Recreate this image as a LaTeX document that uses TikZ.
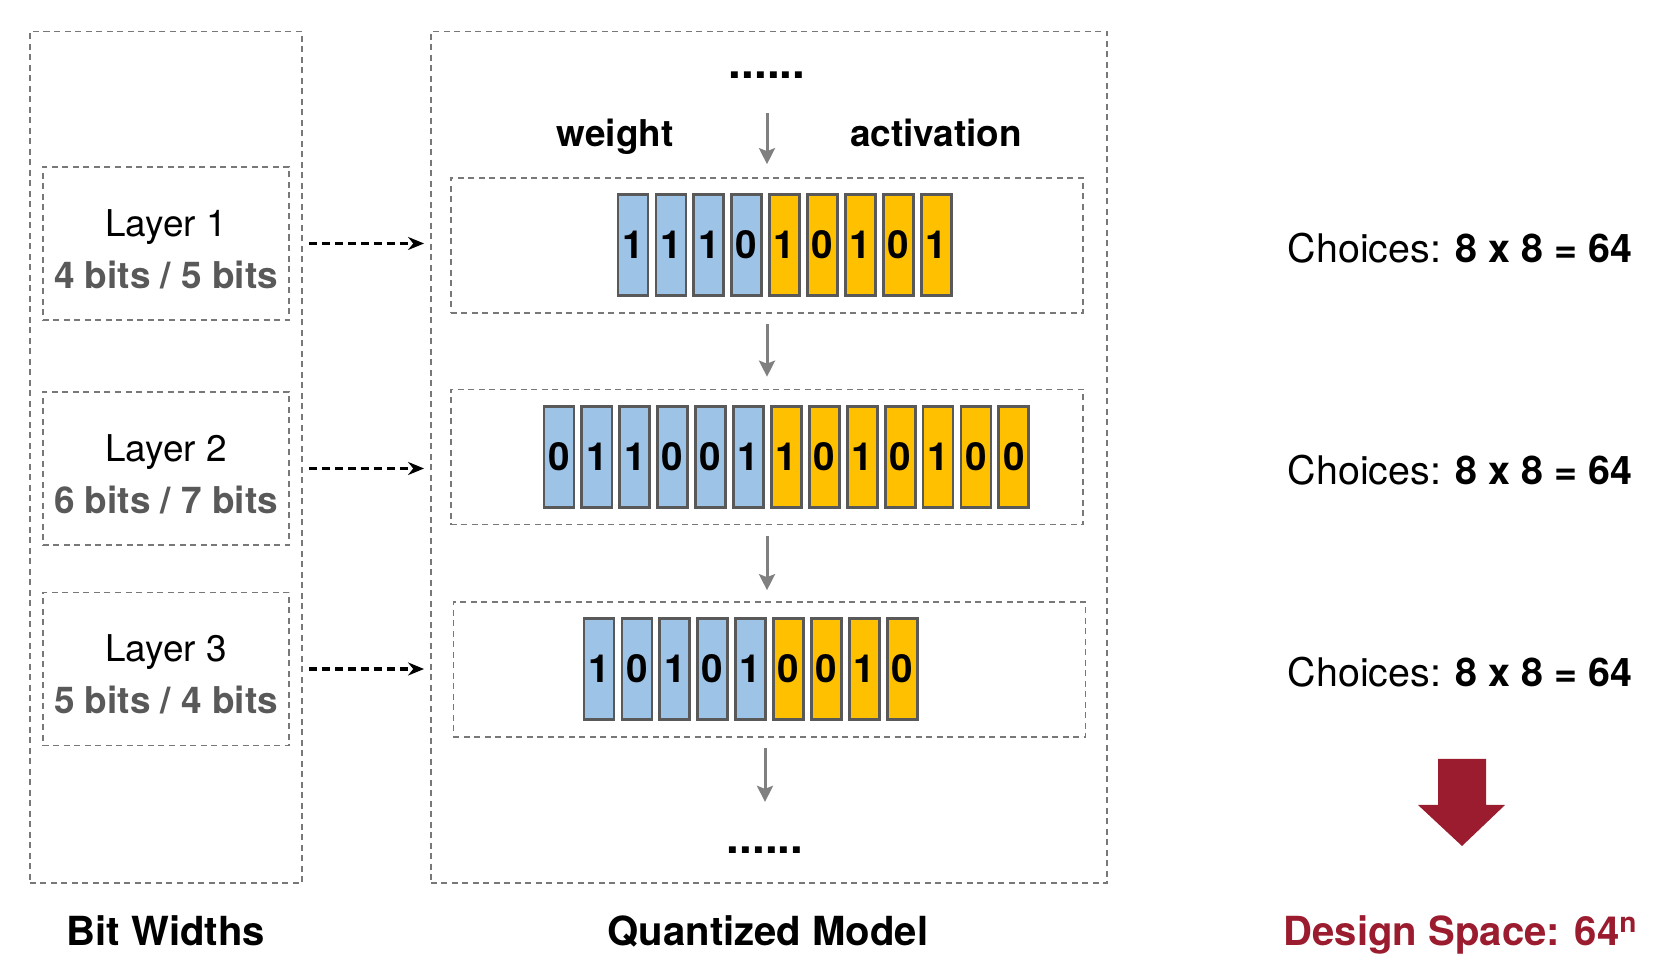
\documentclass[tikz,border=0pt]{standalone}
\usepackage{fontspec}
\setmainfont{TeX Gyre Heros}
\usetikzlibrary{arrows, arrows.meta}
\definecolor{wblue}{RGB}{157,195,230}
\definecolor{agold}{RGB}{255,192,0}
\definecolor{dgray}{RGB}{89,89,89}
\definecolor{dsred}{RGB}{154,28,46}
\definecolor{boxgray}{RGB}{120,120,120}
\tikzset{
  >=stealth',
  dbox/.style={draw=boxgray, line width=0.015cm, dash pattern=on 0.06cm off 0.045cm},
  layer/.style={dbox, minimum width=2.46cm, minimum height=1.53cm},
  layertxt/.style={align=center, yshift=-0.055cm, font=\fontsize{10.5}{14.8}\selectfont},
  row/.style={dbox, minimum width=6.32cm, minimum height=1.35cm},
  bit/.style={draw=dgray, line width=0.028cm, minimum width=0.30cm, minimum height=1.01cm, inner sep=0pt, font=\fontsize{11}{12}\selectfont\bfseries},
  wbit/.style={bit, fill=wblue},
  abit/.style={bit, fill=agold},
  link/.style={-{Stealth[length=0.16cm, width=0.13cm]}, line width=0.032cm, dash pattern=on 0.08cm off 0.05cm},
  flow/.style={-{Stealth[length=0.16cm, width=0.16cm, inset=0.03cm]}, draw=gray, line width=0.03cm},
  tag/.style={font=\fontsize{10.5}{12}\selectfont\bfseries, anchor=base},
  dots/.style={font=\fontsize{13}{14}\selectfont\bfseries, anchor=base},
  lbl/.style={font=\fontsize{11.4}{13}\selectfont\bfseries, anchor=base},
  choice/.style={font=\fontsize{11.2}{13}\selectfont},
}

\begin{document}
\begin{tikzpicture}[x=0.01cm, y=-0.01cm]
  \useasboundingbox (0,0) rectangle (1670,974);

  % frames
  \node[dbox, minimum width=2.72cm, minimum height=8.51cm] (bw) at (166,457.5) {};
  \node[dbox, minimum width=6.76cm, minimum height=8.51cm] (qm) at (769,457.5) {};

  % layers
  \node[layer] (l1) at (166,243.5) {};
  \node[layer] (l2) at (166,468.5) {};
  \node[layer] (l3) at (166,669) {};
  \node[layertxt] (t1) at (l1) {Layer 1\\{\bfseries\color{dgray}4 bits / 5 bits}};
  \node[layertxt] (t2) at (l2) {Layer 2\\{\bfseries\color{dgray}6 bits / 7 bits}};
  \node[layertxt] (t3) at (l3) {Layer 3\\{\bfseries\color{dgray}5 bits / 4 bits}};

  % quantized rows
  \node[dots] (dtop) at (767,79) {......};
  \node[tag] (wt) at (615,147) {weight};
  \node[tag] (act) at (936,147) {activation};
  \node[row] (r1) at (767,245.5) {};
  \node[row] (r2) at (767,457) {};
  \node[row] (r3) at (769.5,669.5) {};
  \node[dots] (dbot) at (765,854) {......};

  % bits
  \foreach \b [count=\i] in {1,1,1,0}
    \node[wbit] (wa\i) at ({633+37.9*(\i-1)},245) {\b};
  \foreach \b [count=\i from 4] in {1,0,1,0,1}
    \node[abit] (aa\i) at ({633+37.9*\i},245) {\b};
  \foreach \b [count=\i] in {0,1,1,0,0,1}
    \node[wbit] (wb\i) at ({559+37.9*(\i-1)},457) {\b};
  \foreach \b [count=\i from 6] in {1,0,1,0,1,0,0}
    \node[abit] (ab\i) at ({559+37.9*\i},457) {\b};
  \foreach \b [count=\i] in {1,0,1,0,1}
    \node[wbit] (wc\i) at ({599+37.9*(\i-1)},669) {\b};
  \foreach \b [count=\i from 5] in {0,0,1,0}
    \node[abit] (ac\i) at ({599+37.9*\i},669) {\b};

  % transitions
  \draw[flow, shorten <=0.22cm, shorten >=0.13cm] (dtop) -- (dtop |- r1.north);
  \draw[flow, shorten <=0.1cm, shorten >=0.12cm] (r1.south -| dtop) -- (r2.north -| dtop);
  \draw[flow, shorten <=0.11cm, shorten >=0.11cm] (r2.south -| dtop) -- (r3.north -| dtop);
  \draw[flow, shorten <=0.1cm, shorten >=0.33cm] (r3.south -| dbot) -- (dbot);

  \draw[link, shorten <=0.19cm, shorten >=0.06cm] (l1.east) -- (l1.east -| qm.west);
  \draw[link, shorten <=0.19cm, shorten >=0.06cm] (l2.east) -- (l2.east -| qm.west);
  \draw[link, shorten <=0.19cm, shorten >=0.06cm] (l3.east) -- (l3.east -| qm.west);

  % choices
  \node[choice] (c1) at (1460,248) {Choices: \textbf{8 x 8 = 64}};
  \node[choice] (c2) at (1460,470) {Choices: \textbf{8 x 8 = 64}};
  \node[choice] (c3) at (1460,672) {Choices: \textbf{8 x 8 = 64}};
  \fill[dsred] (1438,759) -- (1486,759) -- (1486,805) -- (1505,805) -- (1462,846)
    -- (1418,805) -- (1438,805) -- cycle;

  % captions
  \node[lbl] (bwl) at (166,946) {Bit Widths};
  \node[lbl] (qml) at (768,946) {Quantized Model};
  \node[lbl, text=dsred] (dsl) at (1461,946) {Design Space: 64\textsuperscript{n}};
\end{tikzpicture}
\end{document}
